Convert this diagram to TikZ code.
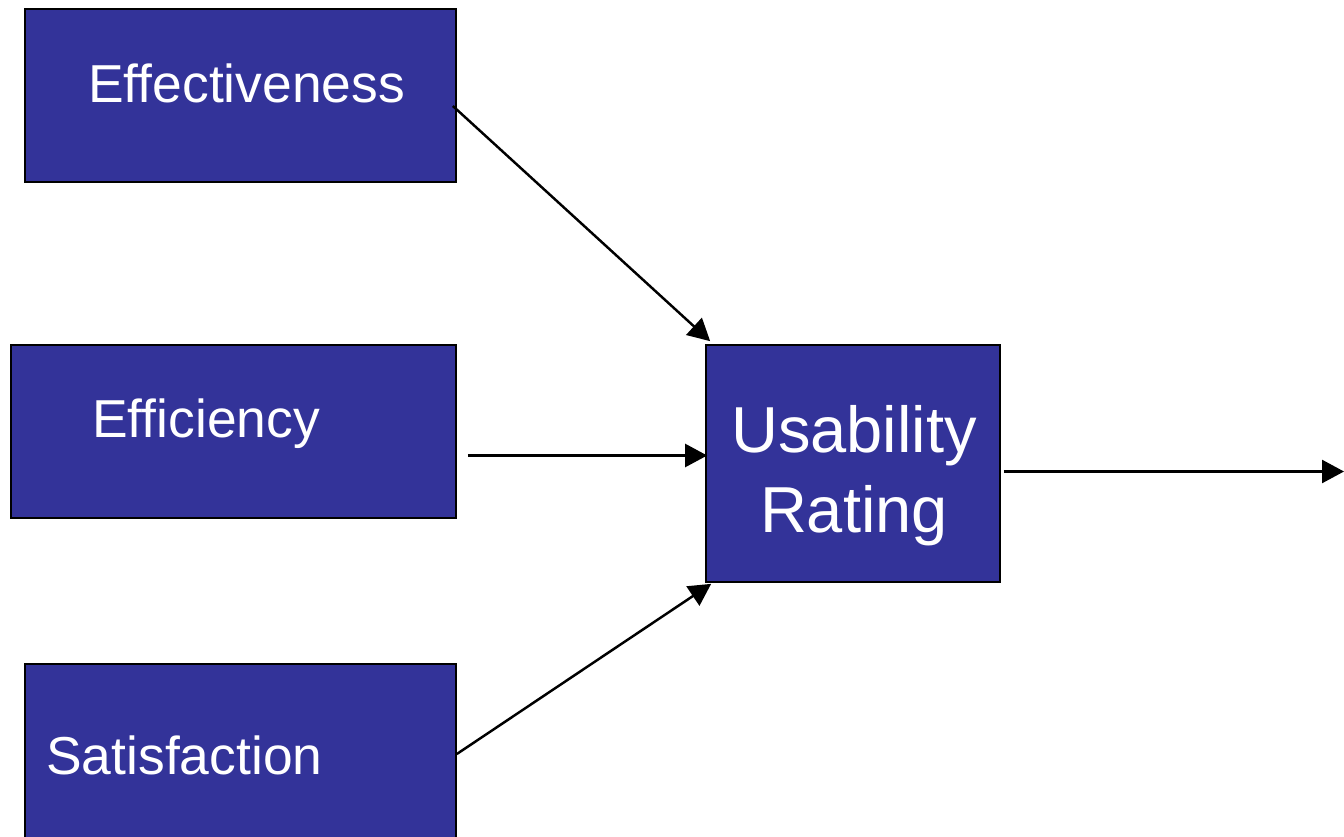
\documentclass[tikz,border=0pt]{standalone}
\usepackage{fontspec}
\setmainfont{Liberation Sans}
\usetikzlibrary{arrows.meta,calc}
\definecolor{boxblue}{RGB}{51,51,153}
\tikzset{
  factor/.style={draw=black, line width=1pt, fill=boxblue, inner sep=0pt},
  label text/.style={text=white, inner sep=0pt, font=\fontsize{30.4}{36}\selectfont},
  link/.style={black, line width=1.4pt, -{Triangle[length=0.44cm, width=0.46cm]}}
}
\begin{document}
\begin{tikzpicture}[x=0.02cm, y=-0.02cm]
    \useasboundingbox (0,0) rectangle (1344,837);
    % Nodes for the factor boxes
    \node[factor, minimum width=8.62cm, minimum height=3.46cm] (eff) at (240.5,95.5) {};
    \node[factor, minimum width=8.9cm, minimum height=3.46cm] (effi) at (233.5,431.5) {};
    \node[factor, minimum width=8.62cm, minimum height=3.6cm] (sat) at (240.5,754) {};
    \node[factor, minimum width=5.88cm, minimum height=4.74cm] (use) at (853,463.5) {};

    % Texts
    \node[label text, anchor=base west] (effT) at (88,103) {Effectiveness};
    \node[label text, anchor=base west] (effiT) at (92,437) {Efficiency};
    \node[label text, anchor=base west] (satT) at (46,774) {Satisfaction};
    \node[label text, anchor=base, align=center, font=\fontsize{37}{45}\selectfont] (useT) at (854,532) {Usability\\Rating};
    \coordinate (out) at (1344,471.5);

    % Edges
    \draw[link] ($(eff.east)+(-4,10.5)$) -- ($(use.north west)+(5,-3)$);
    \draw[link] ($(effi.east)+(11,24)$) -- ($(use.west)+(2,-8)$);
    \draw[link] (sat.east) -- ($(use.south west)+(6,1)$);
    \draw[link] ($(use.east)+(3,8)$) -- (out);
\end{tikzpicture}
\end{document}
